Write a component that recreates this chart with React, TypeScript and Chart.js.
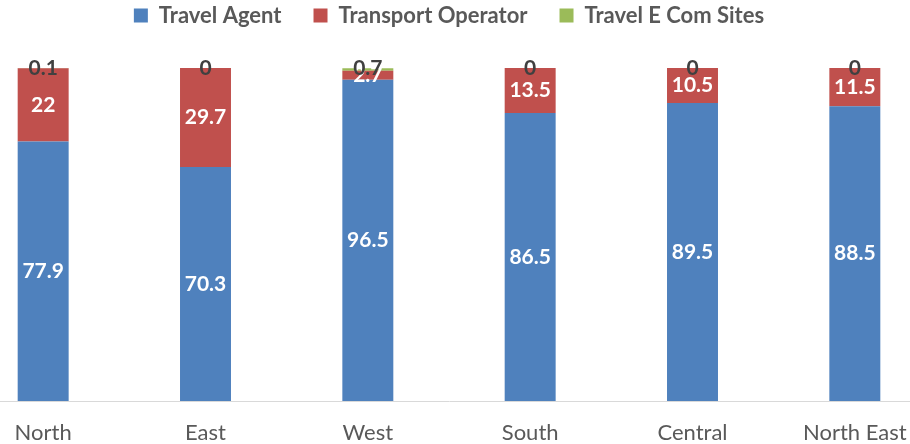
import { useEffect, useRef } from "react";
import { Chart, registerables } from "chart.js";

Chart.register(...registerables);

const categories = ["North", "East", "West", "South", "Central", "North East"];
const travelAgent = [77.9, 70.3, 96.5, 86.5, 89.5, 88.5];
const transportOperator = [22, 29.7, 2.7, 13.5, 10.5, 11.5];
const travelEComSites = [0.1, 0, 0.7, 0, 0, 0];
const seriesNames = ["Travel Agent", "Transport Operator", "Travel E Com Sites"];
const seriesColors = ["#4F81BD", "#C0504D", "#9BBB59"];

const FONT = "Lato";

const valueLabels = {
  id: "valueLabels",
  afterDatasetsDraw(chart: any) {
    const ctx = chart.ctx;
    ctx.save();
    ctx.textAlign = "center";
    ctx.textBaseline = "middle";
    ctx.font = `bold 21px ${FONT}`;
    chart.data.datasets.forEach((ds: any, di: number) => {
      const meta = chart.getDatasetMeta(di);
      meta.data.forEach((el: any, i: number) => {
        const v = ds.data[i];
        const { x, y, base } = el.getProps(["x", "y", "base"], true);
        if (di < 2) {
          ctx.fillStyle = "#ffffff";
          ctx.fillText(String(v), x, (y + base) / 2);
        } else {
          ctx.fillStyle = "#404040";
          ctx.fillText(String(v), x, y);
        }
      });
    });
    ctx.restore();
  },
};

export default function App() {
  const ref = useRef<HTMLCanvasElement | null>(null);
  useEffect(() => {
    if (!ref.current) return;
    const series = [travelAgent, transportOperator, travelEComSites];
    const chart = new Chart(ref.current, {
      type: "bar",
      data: {
        labels: categories,
        datasets: series.map((d, i) => ({
          label: seriesNames[i],
          data: d,
          backgroundColor: seriesColors[i],
          borderWidth: 0,
          categoryPercentage: 1,
          barPercentage: 0.314,
        })),
      },
      options: {
        animation: false,
        responsive: false,
        maintainAspectRatio: false,
        layout: { padding: { top: -27.5, left: 0, right: 0, bottom: 0 } },
        plugins: {
          legend: {
            position: "top",
            labels: {
              boxWidth: 14,
              boxHeight: 14,
              padding: 32,
              color: "#595959",
              font: { family: FONT, size: 22, weight: "bold" },
            },
          },
          tooltip: { enabled: false },
        },
        scales: {
          x: {
            stacked: true,
            grid: { display: false, drawTicks: false },
            border: { display: true, color: "#d9d9d9", width: 1 },
            ticks: {
              color: "#595959",
              font: { family: FONT, size: 22 },
              padding: 19,
              maxRotation: 0,
              autoSkip: false,
            },
            afterFit: (s: any) => {
              s.height = 43;
            },
          },
          xTop: {
            type: "category",
            position: "top",
            display: true,
            grid: { display: false, drawTicks: false },
            border: { display: false },
            ticks: { display: false },
            afterFit: (s: any) => {
              s.height = 31.5;
            },
          },
          y: {
            stacked: true,
            display: false,
            min: 0,
            max: 100,
          },
        },
      },
      plugins: [valueLabels],
    });
    return () => chart.destroy();
  }, []);
  return (
    <div
      style={{
        position: "fixed",
        left: 0,
        top: 0,
        width: 910,
        height: 444,
        overflow: "hidden",
        background: "#ffffff",
      }}
    >
      <div style={{ position: "absolute", left: -38, top: 0, width: 974, height: 444 }}>
        <canvas ref={ref} width={974} height={444} style={{ width: 974, height: 444 }} />
      </div>
    </div>
  );
}
